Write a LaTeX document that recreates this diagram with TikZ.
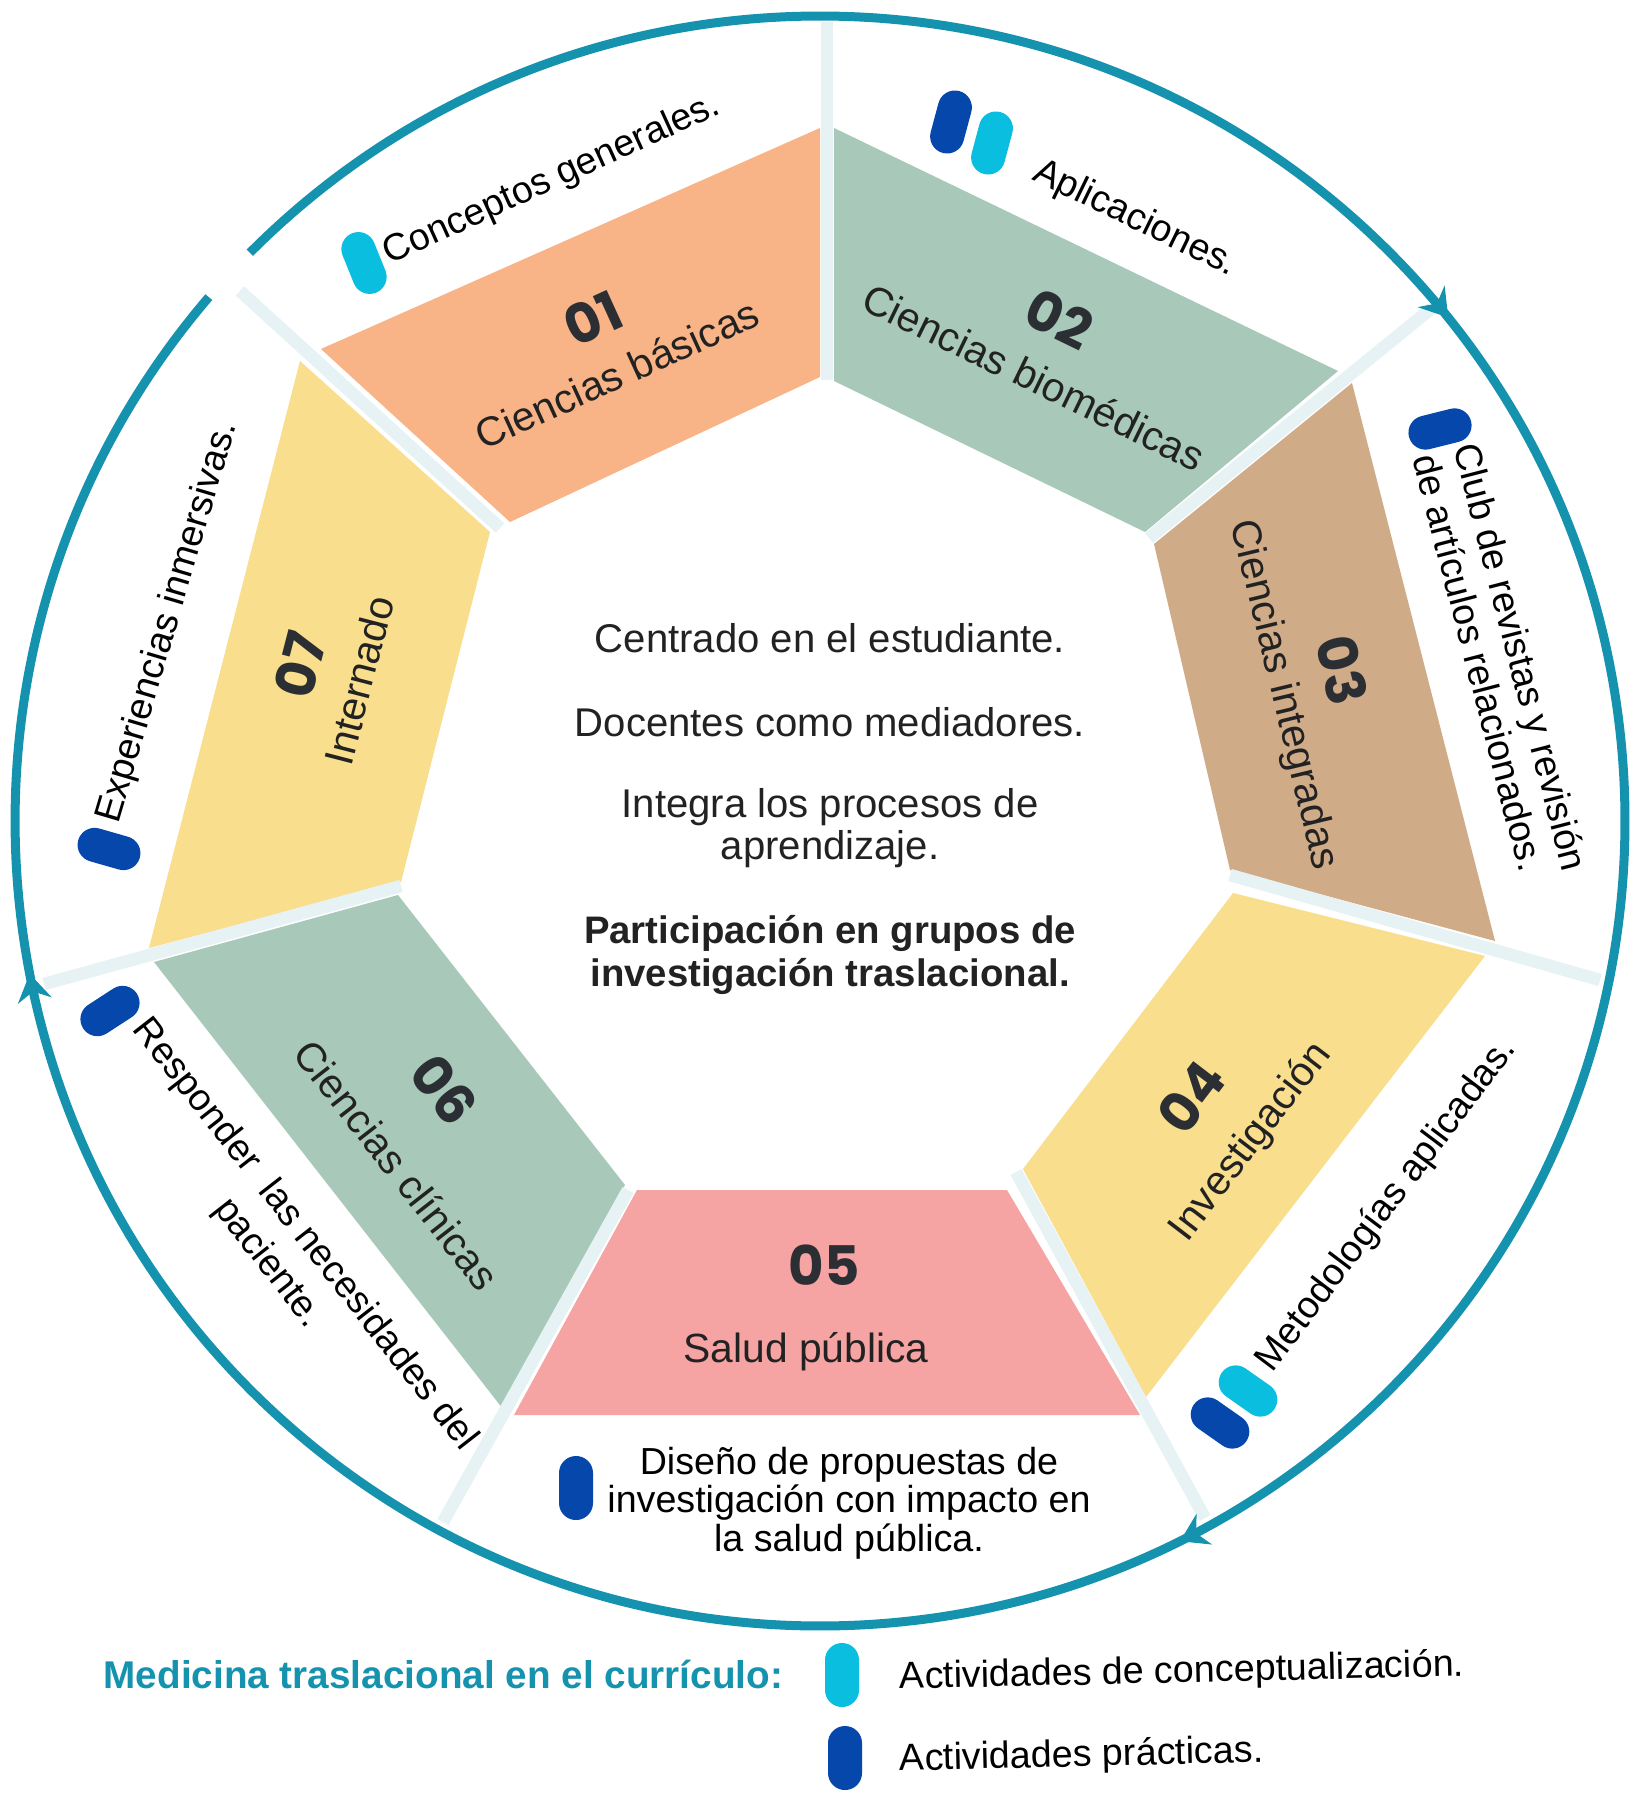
\documentclass[tikz,border=0pt]{standalone}
\usepackage{fontspec}
\setmainfont{Liberation Sans}
\newfontfamily\numfont{Poppins}
\usetikzlibrary{shapes.misc,decorations.markings,arrows.meta}
\definecolor{cOr}{HTML}{F8B387}
\definecolor{cGr}{HTML}{A8C9BA}
\definecolor{cBr}{HTML}{D0AB88}
\definecolor{cYe}{HTML}{F8DE8D}
\definecolor{cPk}{HTML}{F6A3A4}
\definecolor{cDiv}{HTML}{E6F2F4}
\definecolor{cTeal}{HTML}{1592AE}
\definecolor{cDark}{HTML}{0647AB}
\definecolor{cCyan}{HTML}{0ABEE0}
\definecolor{cTxt}{HTML}{222222}
\definecolor{cNum}{HTML}{2B2E33}
\begin{document}
\begin{tikzpicture}[x=0.01cm,y=-0.01cm,
  pill/.style={shape=rounded rectangle, minimum width=0.64cm, minimum height=0.34cm, inner sep=0pt, draw=none},
  darkpill/.style={pill, fill=cDark},
  cyanpill/.style={pill, fill=cCyan},
  num/.style={font=\numfont\bfseries\fontsize{15.5}{16}\selectfont, text=cNum, inner sep=0pt},
  band/.style={font=\fontsize{11.6}{13}\selectfont, text=cTxt, inner sep=0pt},
  outer/.style={font=\fontsize{10.7}{12}\selectfont, text=black, inner sep=0pt},
  ctr/.style={font=\fontsize{11.4}{12}\selectfont, text=cTxt, align=center, inner sep=0pt},
  ctrb/.style={font=\bfseries\fontsize{10.9}{12}\selectfont, text=cTxt, align=center, inner sep=0pt},
  legtitle/.style={font=\bfseries\fontsize{11}{12}\selectfont, text=cTeal, inner sep=0pt},
  divider/.style={draw=cDiv, line width=0.125cm},
  ring/.style={color=cTeal, line width=0.09cm},
  ringarrows/.style={decoration={markings,
     mark=at position 0.2710 with {\arrow{Stealth[length=0.27cm,width=0.34cm,inset=0.09cm]}},
     mark=at position 0.5582 with {\arrow{Stealth[length=0.27cm,width=0.34cm,inset=0.09cm]}},
     mark=at position 0.8551 with {\arrow{Stealth[length=0.27cm,width=0.34cm,inset=0.09cm]}}},
     postaction={decorate}}
]
\useasboundingbox (0,0) rectangle (1634,1795);
\fill[white] (0,0) rectangle (1634,1795);

% coloured bands
\fill[cOr] (321,349) -- (820,128) -- (820,377) -- (510,522) -- cycle;
\fill[cGr] (834,128) -- (1338,371) -- (1145,532) -- (834,381) -- cycle;
\fill[cBr] (1352,383) -- (1495,941) -- (1230,870) -- (1154,544) -- cycle;
\fill[cYe] (1233,893) -- (1485,956) -- (1146,1397) -- (1023,1169) -- cycle;
\fill[cPk] (637,1190) -- (1007,1190) -- (1140,1415) -- (514,1415) -- cycle;
\fill[cGr] (154,962) -- (398,895) -- (625,1185) -- (503,1409) -- cycle;
\fill[cYe] (300,361) -- (490,532) -- (401,882) -- (149,948) -- cycle;

% dividers
\coordinate (d1a) at (827,22);   \coordinate (d1b) at (827,380);
\coordinate (d2a) at (1149,538); \coordinate (d2b) at (1432,308);
\coordinate (d3a) at (1230,875); \coordinate (d3b) at (1600,980);
\coordinate (d4a) at (1016,1172);\coordinate (d4b) at (1205,1518);
\coordinate (d5a) at (628,1190); \coordinate (d5b) at (443,1522);
\coordinate (d6a) at (401,886);  \coordinate (d6b) at (44,984);
\coordinate (d7a) at (500,528);  \coordinate (d7b) at (240,291);
\draw[divider] (d1a) -- (d1b);
\draw[divider] (d2a) -- (d2b);
\draw[divider] (d3a) -- (d3b);
\draw[divider] (d4a) -- (d4b);
\draw[divider] (d5a) -- (d5b);
\draw[divider] (d6a) -- (d6b);
\draw[divider] (d7a) -- (d7b);

% outer ring
\coordinate (ctr) at (820,821);
\draw[ring, ringarrows] (ctr) ++(-135.1:805) arc[start angle=-135.1, end angle=220.6, radius=805];

% pills
\node[cyanpill, rotate=-68] (p1) at (364,263) {};
\node[darkpill, rotate=75] (p2a) at (951,122) {};
\node[cyanpill, rotate=75] (p2b) at (992,143) {};
\node[darkpill, rotate=14] (p3) at (1440,429) {};
\node[cyanpill, rotate=-35] (p4a) at (1248,1391) {};
\node[darkpill, rotate=-35] (p4b) at (1220,1423) {};
\node[darkpill, rotate=90] (p5) at (576,1488) {};
\node[darkpill, rotate=33] (p6) at (110,1011) {};
\node[darkpill, rotate=-16] (p7) at (109,849) {};

% segment 01
\node[num, rotate=24.5] (n1) at (593,318) {01};
\node[band, rotate=24.5] (t1) at (617,374) {Ciencias básicas};
\node[outer, rotate=24.5] (a1) at (552,180) {Conceptos generales.};
% segment 02
\node[num, rotate=-25.9] (n2) at (1059,319) {02};
\node[band, rotate=-25.9] (t2) at (1034,377) {Ciencias biomédicas};
\node[outer, rotate=-26] (a2) at (1135,219) {Aplicaciones.};
% segment 03
\node[num, rotate=-76] (n3) at (1342,670) {03};
\node[band, rotate=-76.5] (t3) at (1283,695) {Ciencias integradas};
\node[outer, rotate=-75.5, align=left] (a3) at (1501,662) {Club de revistas y revisión\\de artículos relacionados.};
% segment 04
\node[num, rotate=52.6] (n4) at (1191,1097) {04};
\node[band, rotate=52.6] (t4) at (1251,1142) {Investigación};
\node[outer, rotate=53] (a4) at (1387,1205) {Metodologías aplicadas.};
% segment 05
\node[num] (n5) at (824,1265) {05};
\node[band] (t5) at (806,1352) {Salud pública};
\node[outer, align=center, font=\fontsize{10.7}{10.9}\selectfont] (a5) at (849,1503) {Diseño de propuestas de\\investigación con impacto en\\la salud pública.};
% segment 06
\node[num, rotate=-52] (n6) at (444,1090) {06};
\node[band, rotate=-52] (t6) at (397,1165) {Ciencias clínicas};
\node[outer, rotate=-52, align=center, font=\fontsize{10.7}{13.2}\selectfont] (a6) at (286,1249) {Responder\ \ las necesidades del\\paciente.};
% segment 07
\node[num, rotate=75.5] (n7) at (300,665) {07};
\node[band, rotate=75.5] (t7) at (359,680) {Internado};
\node[outer, rotate=73.5] (a7) at (168,622) {Experiencias inmersivas.};

% centre
\node[ctr] (c1) at (830,638) {Centrado en el estudiante.};
\node[ctr] (c2) at (830,722) {Docentes como mediadores.};
\node[ctr] (c3) at (830,828) {Integra los procesos de\\aprendizaje.};
\node[ctrb] (c4) at (830,955) {Participación en grupos de\\investigación traslacional.};

% legend
\node[legtitle, anchor=west] (lt) at (103,1674) {Medicina traslacional en el currículo:};
\node[cyanpill, rotate=90] (lc) at (842,1675) {};
\node[darkpill, rotate=90] (ld) at (845,1758) {};
\node[outer, anchor=west, rotate=1.3] (l1) at (899,1679) {Actividades de conceptualización.};
\node[outer, anchor=west, rotate=1.4] (l2) at (899,1761) {Actividades prácticas.};
\end{tikzpicture}
\end{document}
